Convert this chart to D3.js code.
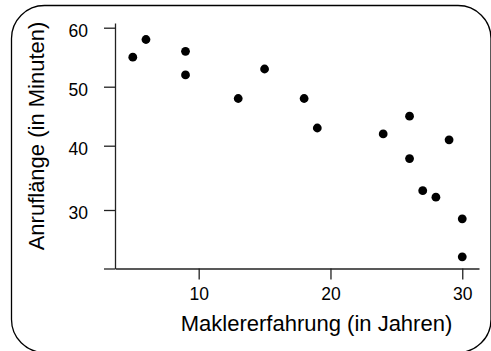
<!DOCTYPE html>
<html>
<head>
<meta charset="utf-8">
<script src="https://cdn.jsdelivr.net/npm/d3@7"></script>
<style>
  html, body { margin: 0; padding: 0; background: #fff; }
  svg { display: block; }
  text { font-family: "Liberation Sans", Arial, Helvetica, sans-serif; fill: #000; }
</style>
</head>
<body>
<svg id="chart" width="491" height="351"></svg>
<script>
// Data: broker experience (years) vs call length (minutes)
const experience = [5, 6, 9, 9, 13, 15, 18, 19, 24, 26, 26, 27, 28, 29, 30, 30];
const callLength = [55, 58, 56, 52, 48, 53, 48, 43, 42, 45, 38, 33, 32, 41, 28.5, 22];
const xTicks = [10, 20, 30];
const yTicks = [20, 30, 40, 50, 60];
const yTickLabels = ["", "30", "40", "50", "60"];
const xTitle = "Maklererfahrung (in Jahren)";
const yTitle = "Anruflänge (in Minuten)";

const svg = d3.select("#chart");

// rounded frame (runs slightly past the right and bottom edges)
svg.append("rect")
  .attr("x", 11.5).attr("y", 5.5)
  .attr("width", 479.5).attr("height", 347)
  .attr("rx", 33).attr("ry", 33)
  .attr("fill", "none").attr("stroke", "#000").attr("stroke-width", 1.3);

const x = d3.scaleLinear().domain([3.65, 31.27]).range([115, 479]);
const y = d3.scaleLinear()
  .domain([20, 30, 40, 50, 60, 60.8])
  .range([268.5, 210, 145.7, 86.7, 27.7, 23]);

const xAxis = d3.axisBottom(x)
  .tickValues(xTicks).tickSize(11).tickSizeOuter(0).tickPadding(8)
  .tickFormat(d3.format("d"));
const yAxis = d3.axisLeft(y)
  .tickValues(yTicks).tickSize(11).tickSizeOuter(0).tickPadding(16)
  .tickFormat((d, i) => yTickLabels[i]);

const gx = svg.append("g").attr("transform", "translate(0,268.5)").call(xAxis);
const gy = svg.append("g").attr("transform", "translate(115,0)").call(yAxis);

[gx, gy].forEach(g => {
  g.selectAll("path.domain").attr("stroke", "#222").attr("stroke-width", 1.3);
  g.selectAll(".tick line").attr("stroke", "#222").attr("stroke-width", 1.3);
  g.selectAll(".tick text")
    .style("font-family", "'Liberation Sans', Arial, sans-serif")
    .style("font-size", "17.5px").attr("fill", "#000");
});
gy.selectAll(".tick text").attr("dy", "0.5em");

// points
svg.append("g").selectAll("circle")
  .data(experience.map((e, i) => [e, callLength[i]]))
  .join("circle")
  .attr("cx", d => x(d[0]))
  .attr("cy", d => y(d[1]))
  .attr("r", 4.4)
  .attr("fill", "#000");

// axis titles
svg.append("text")
  .attr("x", 316.5).attr("y", 331)
  .attr("text-anchor", "middle")
  .style("font-size", "22px")
  .text(xTitle);

svg.append("text")
  .attr("transform", "translate(44,136) rotate(-90)")
  .attr("text-anchor", "middle")
  .style("font-size", "22px")
  .text(yTitle);
</script>
</body>
</html>
